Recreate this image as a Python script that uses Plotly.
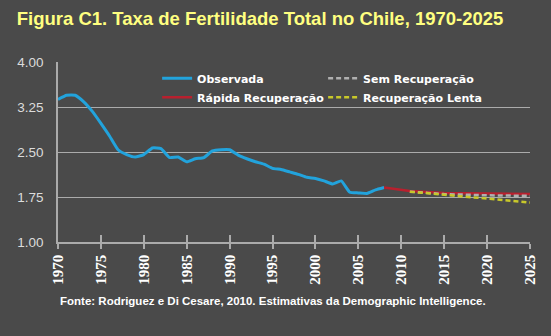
import plotly.graph_objects as go

years_obs = list(range(1970, 2009))
observada = [3.38, 3.45, 3.45, 3.34, 3.18, 2.98, 2.77, 2.54, 2.46, 2.42,
             2.46, 2.57, 2.56, 2.41, 2.42, 2.34, 2.39, 2.41, 2.52, 2.54,
             2.54, 2.45, 2.39, 2.34, 2.30, 2.23, 2.21, 2.17, 2.13, 2.08,
             2.06, 2.02, 1.97, 2.02, 1.83, 1.82, 1.81, 1.87, 1.91]

years_rapida = [2008, 2011, 2015, 2020, 2025]
rapida = [1.91, 1.85, 1.82, 1.81, 1.80]
years_alt = [2011, 2015, 2020, 2025]
sem = [1.84, 1.80, 1.78, 1.77]
lenta = [1.84, 1.79, 1.73, 1.66]

x_ticks = list(range(1970, 2026, 5))
y_ticks = [1.00, 1.75, 2.50, 3.25, 4.00]

title_text = "Figura C1. Taxa de Fertilidade Total no Chile, 1970-2025"
source_text = "Fonte: Rodriguez e Di Cesare, 2010. Estimativas da Demographic Intelligence."

BG = "#4a4a4a"
GRID = "#ababab"

fig = go.Figure()
fig.add_trace(go.Scatter(x=years_obs, y=observada, mode="lines", name="Observada", legendrank=1,
                         line=dict(color="#22a3dc", width=3, shape="spline", smoothing=0.4)))
fig.add_trace(go.Scatter(x=years_rapida, y=rapida, mode="lines", name="Rápida Recuperação", legendrank=3,
                         line=dict(color="#b8202e", width=2.5)))
fig.add_trace(go.Scatter(x=years_alt, y=sem, mode="lines", name="Sem Recuperação", legendrank=2,
                         line=dict(color="#b0b0b0", width=2.5, dash="5px,3px")))
fig.add_trace(go.Scatter(x=years_alt, y=lenta, mode="lines", name="Recuperação Lenta", legendrank=4,
                         line=dict(color="#c8c82a", width=2.5, dash="5px,3px")))
# overlay axis for inside tick marks
fig.add_trace(go.Scatter(x=[1970, 2025], y=[1, 1], xaxis="x2", mode="lines",
                         line=dict(width=0), showlegend=False, hoverinfo="skip"))

fig.update_layout(
    width=551, height=336,
    paper_bgcolor=BG, plot_bgcolor=BG,
    margin=dict(l=58, r=21, t=62, b=94),
    title=dict(text=title_text, x=0.472, xanchor="center", y=0.945, yanchor="middle",
               font=dict(family="Liberation Sans, Arial", size=18.5, color="#ffff80", weight="bold")),
    xaxis=dict(range=[1970, 2025], tickvals=x_ticks, ticktext=[str(v) for v in x_ticks],
               tickangle=-90, showgrid=False, zeroline=False,
               showline=True, linecolor=GRID, linewidth=1.5,
               ticks="outside", ticklen=5, tickcolor=GRID, tickwidth=1.5,
               tickfont=dict(family="Liberation Sans Narrow, Arial Narrow", size=15,
                             color="white", weight="bold")),
    xaxis2=dict(range=[1970, 2025], overlaying="x", anchor="y", side="bottom",
                tickvals=x_ticks, showticklabels=False, showgrid=False, zeroline=False,
                ticks="inside", ticklen=7, tickcolor=GRID, tickwidth=1.5),
    yaxis=dict(range=[1, 4.005], tickvals=y_ticks, ticktext=[f"{v:.2f}" for v in y_ticks],
               showgrid=True, gridcolor=GRID, gridwidth=1, zeroline=False,
               showline=True, linecolor=GRID, linewidth=1.5, ticks="",
               ticklabelstandoff=10,
               tickfont=dict(family="Liberation Sans, Arial", size=13.5, color="#dcdcdc")),
    legend=dict(orientation="h", x=0.21, xanchor="left", y=0.99, yanchor="top",
                bgcolor="rgba(0,0,0,0)", entrywidth=121, itemwidth=30, tracegroupgap=0,
                font=dict(family="DejaVu Sans", size=11, color="white", weight="bold")),
    annotations=[dict(text=source_text, xref="paper", yref="paper", x=0.455, y=-0.33,
                      xanchor="center", yanchor="middle", showarrow=False,
                      font=dict(family="Liberation Sans, Arial", size=11.5, color="white",
                                weight="bold"))],
    showlegend=True,
)

fig.write_html("out.html")
